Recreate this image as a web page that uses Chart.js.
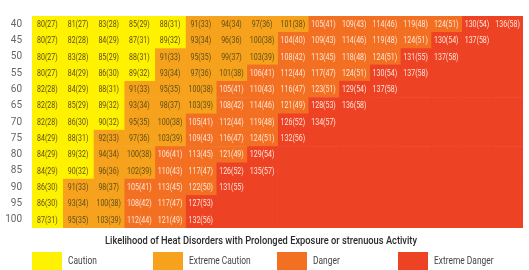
<!DOCTYPE html>
<html>
<head>
<meta charset="utf-8">
<script src="https://cdn.jsdelivr.net/npm/chart.js@4.4.1/dist/chart.umd.min.js"></script>
<style>
  html, body { margin: 0; padding: 0; background: #fff; }
  #wrap { width: 529px; height: 270px; }
</style>
</head>
<body>
<div id="wrap"><canvas id="heatChart" width="529" height="270"></canvas></div>
<script>
// relative humidity rows (%)
const humidity = ['40','45','50','55','60','65','70','75','80','85','90','95','100']
// air temperature columns (F) - header not shown in picture
const tempF = [80,82,84,86,88,90,92,94,96,98,100,102,104,106,108,110]

// heat index in F, per humidity row
const heatF = [
    [80,81,83,85,88,91,94,97,101,105,109,114,119,124,130,136],
    [80,82,84,87,89,93,96,100,104,109,114,119,124,130,137],
    [80,83,85,88,91,95,99,103,108,113,118,124,131,137],
    [80,84,86,89,93,97,101,106,112,117,124,130,137],
    [82,84,88,91,95,100,105,110,116,123,129,137],
    [82,85,89,93,98,103,108,114,121,128,136],
    [82,86,90,95,100,105,112,119,126,134],
    [84,88,92,97,103,109,116,124,132],
    [84,89,94,100,106,113,121,129],
    [84,90,96,102,110,117,126,135],
    [86,91,98,105,113,122,131],
    [86,93,100,108,117,127],
    [87,95,103,112,121,132]
]
// same in C
const heatC = [
    [27,27,28,29,31,33,34,36,38,41,43,46,48,51,54,58],
    [27,28,29,31,32,34,36,38,40,43,46,48,51,54,58],
    [27,28,29,31,33,35,37,39,42,45,48,51,55,58],
    [27,29,30,32,34,36,38,41,44,47,51,54,58],
    [28,29,31,33,35,38,41,43,47,51,54,58],
    [28,29,32,34,37,39,42,46,49,53,58],
    [28,30,32,35,38,41,44,48,52,57],
    [29,31,33,36,39,43,47,51,56],
    [29,32,34,38,41,45,49,54],
    [29,32,36,39,43,47,52,57],
    [30,33,37,41,45,50,55],
    [30,34,38,42,47,53],
    [31,35,39,44,49,56]
]

const levels = ['Caution','Extreme Caution','Danger','Extreme Danger']
const levelMin = [80, 91, 104, 126]   // lowest heat index (F) of each level

const levelColors = ['#fff200','#f7a21d','#f37022','#ee4224']
const darkText = '#5e4f18'
const lightText = '#fde6d8'

function levelOf(f){
    if(f === undefined) return 3   // empty cells are extreme danger
    let lvl = 0
    for(let i = 0; i < levelMin.length; i++){
        if(f >= levelMin[i]) lvl = i
    }
    return lvl
}

// one stacked dataset per temperature column, each cell is one unit wide
const datasets = tempF.map((t, c) => ({
    label: t + 'F',
    data: humidity.map(() => 1),
    backgroundColor: humidity.map((h, r) => levelColors[levelOf(heatF[r][c])]),
    borderWidth: 0,
    barPercentage: 1,
    categoryPercentage: 1
}))

function drawNarrow(ctx, text, x, y, sx){
    ctx.save()
    ctx.translate(x, y)
    ctx.scale(sx, 1)
    ctx.fillText(text, 0, 0)
    ctx.restore()
}

const cellLabels = {
    id: 'cellLabels',
    afterDatasetsDraw(chart){
        const ctx = chart.ctx
        ctx.save()
        ctx.font = '9px Roboto, "Liberation Sans", sans-serif'
        ctx.textAlign = 'center'
        ctx.textBaseline = 'middle'
        chart.data.datasets.forEach((ds, c) => {
            const meta = chart.getDatasetMeta(c)
            meta.data.forEach((bar, r) => {
                const f = heatF[r][c]
                if(f === undefined) return
                const lvl = levelOf(f)
                ctx.fillStyle = lvl >= 2 ? lightText : darkText
                const x = (bar.x + bar.base) / 2
                drawNarrow(ctx, f + '(' + heatC[r][c] + ')', x, bar.y + 0.5, 0.78)
            })
        })
        ctx.restore()
    }
}

const footer = {
    id: 'footer',
    afterDraw(chart){
        const ctx = chart.ctx
        ctx.save()
        ctx.textBaseline = 'middle'

        // title line
        const title = 'Likelihood of Heat Disorders with Prolonged Exposure or strenuous Activity'
        ctx.font = '500 11px Roboto, "Liberation Sans", sans-serif'
        ctx.fillStyle = '#2a2a2a'
        ctx.textAlign = 'left'
        const w = ctx.measureText(title).width
        drawNarrow(ctx, title, 105, 241, 312 / w)

        // legend
        ctx.font = '10.5px Roboto, "Liberation Sans", sans-serif'
        const colX = [32, 153, 277, 398]
        levels.forEach((name, i) => {
            ctx.fillStyle = levelColors[i]
            ctx.fillRect(colX[i], 252, 30, 18)
            ctx.fillStyle = '#444'
            drawNarrow(ctx, name, colX[i] + 36, 261, 0.8)
        })
        ctx.restore()
    }
}

new Chart('heatChart', {
    type: 'bar',
    data: {
        labels: humidity,
        datasets: datasets
    },
    options: {
        indexAxis: 'y',
        responsive: false,
        animation: false,
        layout: { padding: { top: 6, right: 6, bottom: 42, left: 0 } },
        plugins: {
            legend: { display: false },
            tooltip: { enabled: false }
        },
        scales: {
            x: {
                stacked: true,
                min: 0,
                max: tempF.length,
                display: false
            },
            y: {
                stacked: true,
                grid: { display: false, drawTicks: false },
                border: { display: false },
                ticks: {
                    color: '#666',
                    padding: 10,
                    font: { family: 'Roboto', size: 10 }
                },
                afterFit: (scale) => { scale.width = 32 }
            }
        }
    },
    plugins: [cellLabels, footer]
})
</script>
</body>
</html>
